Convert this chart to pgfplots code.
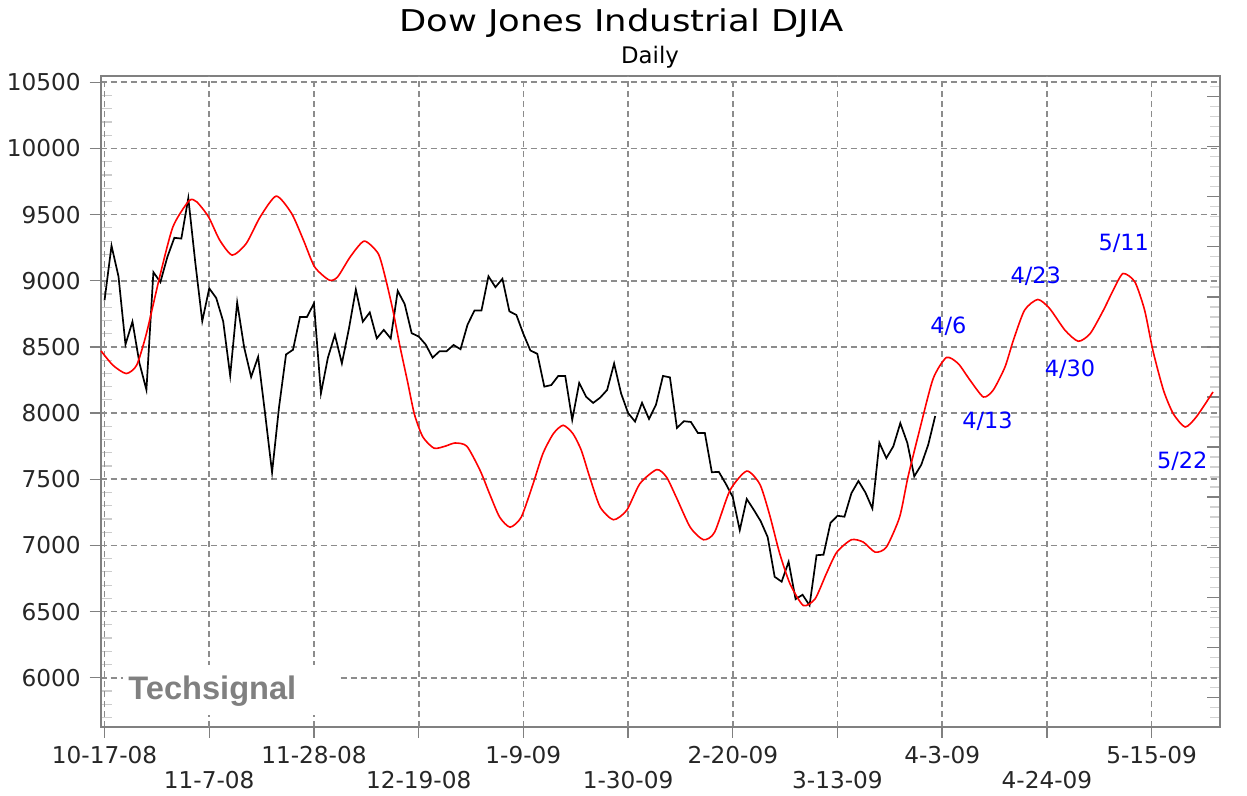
\documentclass[border=0pt]{standalone}
\usepackage{fontspec}
\setmainfont{DejaVu Sans}
\newfontfamily\titlefont[FakeStretch=1.18]{DejaVu Sans}
\newfontfamily\wmfont{Liberation Sans}
\usepackage{pgfplots}
\usepackage{pgfplotstable}
\pgfplotsset{compat=1.18, scaled y ticks=false, scaled x ticks=false}

\pgfplotstableread{
x y
0 8852
1 9265
2 9033
3 8519
4 8691
5 8378
6 8176
7 9065
8 8990
9 9180
10 9325
11 9319
12 9625
13 9139
14 8695
15 8943
16 8870
17 8693
18 8283
19 8836
20 8497
21 8273
22 8425
23 7997
24 7552
25 8046
26 8443
27 8479
28 8727
29 8727
30 8829
31 8149
32 8419
33 8592
34 8376
35 8635
36 8934
37 8691
38 8761
39 8565
40 8629
41 8564
42 8924
43 8824
44 8604
45 8579
46 8519
47 8419
48 8468
49 8468
50 8515
51 8483
52 8668
53 8776
54 8776
55 9034
56 8952
57 9015
58 8769
59 8742
60 8599
61 8474
62 8448
63 8200
64 8212
65 8281
66 8281
67 7949
68 8228
69 8123
70 8077
71 8117
72 8175
73 8375
74 8149
75 8001
76 7936
77 8078
78 7956
79 8063
80 8281
81 8270
82 7888
83 7939
84 7933
85 7850
86 7850
87 7553
88 7556
89 7466
90 7366
91 7115
92 7351
93 7270
94 7183
95 7063
96 6763
97 6726
98 6876
99 6594
100 6627
101 6547
102 6926
103 6930
104 7170
105 7224
106 7217
107 7395
108 7487
109 7400
110 7279
111 7776
112 7660
113 7749
114 7924
115 7776
116 7522
117 7609
118 7761
119 7978
}\djia

\pgfplotstableread{
x y
-0.5 8470
1.2 8362
3.1 8299
4.6 8362
6.0 8601
7.9 9030
9.8 9408
12.1 9605
13.2 9597
14.9 9483
16.5 9307
18.3 9194
20.3 9282
22.3 9483
24.6 9640
26.8 9509
28.5 9307
30.1 9105
32.2 9005
33.4 9030
35.2 9181
37.2 9300
39.2 9206
40.2 9030
41.3 8780
42.3 8510
43.4 8240
44.4 7990
45.6 7820
47.2 7735
48.8 7750
50.2 7774
51.9 7750
53.8 7567
55.2 7385
56.6 7214
58.1 7138
59.7 7214
61.4 7467
62.8 7694
64.3 7845
65.7 7908
67.1 7845
68.3 7719
69.5 7517
71.0 7290
72.9 7194
74.8 7265
76.7 7467
79.1 7573
80.5 7517
81.9 7365
83.9 7138
85.8 7043
87.4 7100
89.6 7416
92.0 7562
93.9 7460
95.3 7227
96.7 6943
98.2 6710
100.1 6546
101.8 6597
103.4 6786
104.9 6949
107.0 7043
108.7 7025
110.4 6949
112.0 6987
113.9 7214
115.1 7517
116.8 7880
118.7 8260
120.6 8420
122.3 8374
124.0 8248
125.9 8122
127.3 8173
129.0 8349
130.2 8551
131.8 8778
133.7 8859
135.4 8790
137.6 8626
139.5 8543
141.2 8601
143.1 8778
144.5 8929
145.9 9055
147.6 8992
149.0 8778
150.2 8470
151.7 8173
153.1 7996
154.8 7895
156.4 7971
158.8 8160
}\cyc

\begin{document}
\begin{tikzpicture}[x=1pt,y=1pt]
\useasboundingbox (-50.35,-34.65) rectangle (573.15,363.35);
% left minor ticks (inside)
\begin{axis}[at={(0,0)}, anchor=south west, scale only axis,
  width=559.65pt, height=325.35pt,
  xmin=-0.55, xmax=159.8, ymin=5630, ymax=10548,
  axis line style={draw=none}, xtick=\empty,
  ytick={5700,5800,5900,6100,6200,6300,6400,6600,6700,6800,6900,7100,7200,7300,7400,7600,7700,7800,7900,8100,8200,8300,8400,8600,8700,8800,8900,9100,9200,9300,9400,9600,9700,9800,9900,10100,10200,10300,10400},
  yticklabels={}, ytick pos=left, tick align=inside,
  major tick length=5.5pt, major tick style={gray!40, line width=0.6pt}]
\end{axis}
% right ticks (inside)
\begin{axis}[at={(0,0)}, anchor=south west, scale only axis,
  width=559.65pt, height=325.35pt,
  xmin=-0.55, xmax=159.8, ymin=5630, ymax=10548,
  axis line style={draw=none}, xtick=\empty,
  ytick={5474.4,5852.6,6230.8,6609,6987.2,7365.4,7743.6,8121.8,8500,8878.2,9256.4,9634.6,10012.8,10391,10769.2},
  minor y tick num=4,
  yticklabels={}, ytick pos=right, tick align=inside,
  major tick length=6.5pt, minor tick length=5pt,
  major tick style={gray, line width=0.6pt},
  minor tick style={gray!35, line width=0.6pt}]
\end{axis}
\begin{axis}[at={(0,0)}, anchor=south west, scale only axis,
  width=559.65pt, height=325.35pt,
  xmin=-0.55, xmax=159.8, ymin=5630, ymax=10548,
  axis line style={gray, line width=1pt},
  tick align=outside, major tick length=5.5pt,
  xtick pos=bottom, ytick pos=left,
  tick style={gray, line width=0.7pt},
  xtick={0,30,60,90,120,150},
  xticklabels={10-17-08,11-28-08,1-9-09,2-20-09,4-3-09,5-15-09},
  extra x ticks={15,45,75,105,135},
  extra x tick labels={11-7-08,12-19-08,1-30-09,3-13-09,4-24-09},
  extra x tick style={grid=major, xticklabel style={yshift=-12.5pt}},
  ytick={6000,6500,7000,7500,8000,8500,9000,9500,10000,10500},
  yticklabels={6000,6500,7000,7500,8000,8500,9000,9500,10000,10500},
  grid=major,
  major grid style={gray!90, dash pattern=on 3pt off 2pt, line width=0.85pt},
  ticklabel style={font=\fontsize{11.6}{13}\selectfont, text=black!85},
  xticklabel style={yshift=-1pt},
  yticklabel style={xshift=-1pt},
  clip=false]
\addplot[black, line width=0.85pt] table[x=x,y=y] {\djia};
\addplot[red, line width=0.8pt, smooth, tension=0.4] table[x=x,y=y] {\cyc};
\begin{scope}[every node/.style={text=blue, font=\fontsize{11.2}{13}\selectfont}]
\node at (axis cs:120.9,8657) {4/6};
\node at (axis cs:126.5,7940) {4/13};
\node at (axis cs:133.4,9035) {4/23};
\node at (axis cs:138.3,8331) {4/30};
\node at (axis cs:146.0,9284) {5/11};
\node at (axis cs:154.4,7639) {5/22};
\end{scope}
\end{axis}
\node[fill=white, minimum width=107.5pt, minimum height=25pt, inner sep=0pt] at (64.9,18.35) {};
\node[anchor=base west, inner sep=0pt, text=gray, font=\wmfont\bfseries\fontsize{16.3}{18}\selectfont] at (13.65,13.35) {Techsignal};
\node[anchor=base, inner sep=0pt, font=\titlefont\fontsize{15}{17}\selectfont] at (260.4,347.5) {Dow Jones Industrial DJIA};
\node[anchor=base, inner sep=0pt, font=\fontsize{11.4}{13}\selectfont] at (274.65,331.7) {Daily};
\end{tikzpicture}
\end{document}
